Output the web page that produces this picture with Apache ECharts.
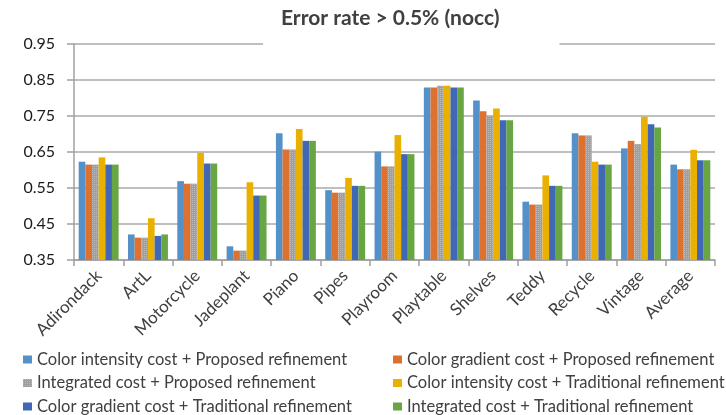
<!DOCTYPE html>
<html>
<head>
<meta charset="utf-8">
<script src="https://cdn.jsdelivr.net/npm/echarts@6/dist/echarts.min.js"></script>
<style>
  html, body { margin: 0; padding: 0; background: #fff; }
  #chart { width: 726px; height: 415px; }
</style>
</head>
<body>
<div id="chart"></div>
<script>
var categories = ['Adirondack', 'ArtL', 'Motorcycle', 'Jadeplant', 'Piano', 'Pipes', 'Playroom',
  'Playtable', 'Shelves', 'Teddy', 'Recycle', 'Vintage', 'Average'];

var seriesNames = [
  'Color intensity cost + Proposed refinement',
  'Color gradient cost + Proposed refinement',
  'Integrated cost + Proposed refinement',
  'Color intensity cost + Traditional refinement',
  'Color gradient cost + Traditional refinement',
  'Integrated cost + Traditional refinement'
];

var intensityProposed   = [0.623, 0.421, 0.569, 0.388, 0.702, 0.544, 0.651, 0.829, 0.793, 0.512, 0.702, 0.660, 0.615];
var gradientProposed    = [0.615, 0.412, 0.562, 0.376, 0.657, 0.537, 0.610, 0.829, 0.763, 0.504, 0.696, 0.681, 0.602];
var integratedProposed  = [0.615, 0.412, 0.562, 0.376, 0.657, 0.537, 0.610, 0.834, 0.750, 0.504, 0.696, 0.672, 0.602];
var intensityTrad       = [0.635, 0.466, 0.648, 0.566, 0.714, 0.578, 0.697, 0.834, 0.771, 0.585, 0.623, 0.748, 0.656];
var gradientTrad        = [0.615, 0.417, 0.618, 0.529, 0.681, 0.556, 0.644, 0.829, 0.738, 0.556, 0.615, 0.727, 0.627];
var integratedTrad      = [0.615, 0.421, 0.618, 0.529, 0.681, 0.556, 0.644, 0.829, 0.738, 0.556, 0.615, 0.718, 0.627];

var allValues = [intensityProposed, gradientProposed, integratedProposed, intensityTrad, gradientTrad, integratedTrad];
var colors = ['#5591c9', '#dd7230', '#9e9e9e', '#eab000', '#4068b5', '#68a543'];

var font = 'Lato, "Liberation Sans", sans-serif';

var chart = echarts.init(document.getElementById('chart'));

var series = allValues.map(function (vals, i) {
  var s = {
    name: seriesNames[i],
    type: 'bar',
    data: vals,
    barGap: '0%',
    barCategoryGap: '19%',
    itemStyle: { color: colors[i] }
  };
  if (i === 2) {
    // dotted fill on the grey bars, like the original
    s.itemStyle.decal = {
      symbol: 'rect',
      symbolSize: 1,
      dashArrayX: [1, 1],
      dashArrayY: [1, 1],
      color: 'rgba(255,255,255,0.3)'
    };
  }
  return s;
});

var legendText = { fontFamily: font, fontSize: 16.5, color: '#404040', lineHeight: 16 };

var option = {
  animation: false,
  title: {
    text: 'Error rate > 0.5% (nocc)',
    left: 263,
    top: 0,
    padding: [7, 60, 18, 18],
    backgroundColor: '#fff',
    textStyle: { fontFamily: font, fontSize: 21, fontWeight: 'bold', color: '#404040', lineHeight: 23 }
  },
  legend: [
    {
      data: [seriesNames[0], seriesNames[2], seriesNames[4]],
      orient: 'vertical',
      left: 23, top: 351, padding: 0,
      itemWidth: 9, itemHeight: 8, itemGap: 6.5,
      icon: 'rect',
      textStyle: legendText
    },
    {
      data: [seriesNames[1], seriesNames[3], seriesNames[5]],
      orient: 'vertical',
      left: 393, top: 351, padding: 0,
      itemWidth: 9, itemHeight: 8, itemGap: 6.5,
      icon: 'rect',
      textStyle: legendText
    }
  ],
  grid: { left: 74, right: 11, top: 44, bottom: 155 },
  xAxis: {
    type: 'category',
    data: categories,
    axisLine: { lineStyle: { color: '#a0a0a0', width: 1.5 } },
    axisTick: { show: true, length: 6, lineStyle: { color: '#a0a0a0', width: 1.5 } },
    axisLabel: { rotate: 45, margin: 13, fontFamily: font, fontSize: 17, color: '#404040', interval: 0 }
  },
  yAxis: {
    type: 'value',
    min: 0.35,
    max: 0.95,
    interval: 0.1,
    axisLine: { show: true, lineStyle: { color: '#a0a0a0', width: 1.5 } },
    axisTick: { show: true, length: 7, lineStyle: { color: '#a0a0a0', width: 1.5 } },
    splitLine: { lineStyle: { color: '#a8a8a8', width: 1.5 } },
    axisLabel: {
      margin: 19, fontFamily: font, fontSize: 16, color: '#1a1a1a',
      formatter: function (v) { return v.toFixed(2); }
    }
  },
  series: series
};

chart.setOption(option);
</script>
</body>
</html>
